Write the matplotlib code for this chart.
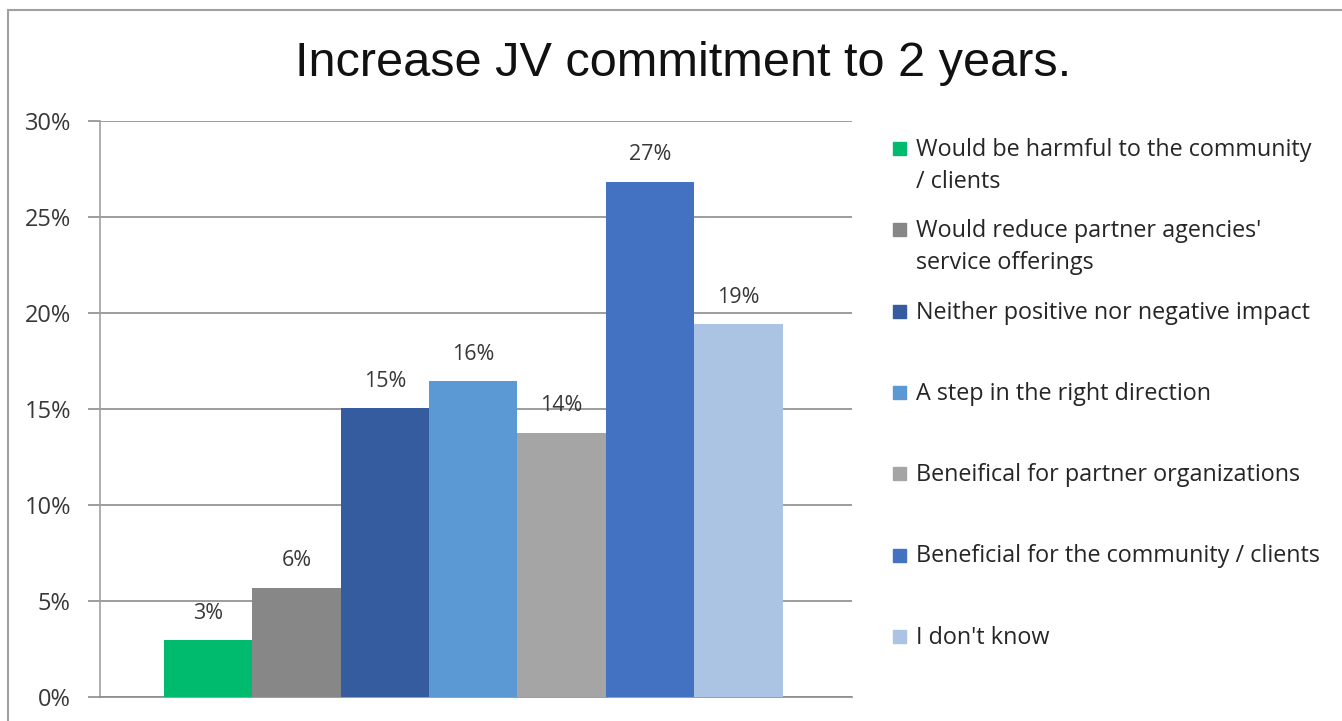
import matplotlib
matplotlib.use("Agg")
import matplotlib.pyplot as plt
from matplotlib.patches import Rectangle

# Survey responses (share of respondents)
categories = [
    "Would be harmful to the community\n/ clients",
    "Would reduce partner agencies'\nservice offerings",
    "Neither positive nor negative impact",
    "A step in the right direction",
    "Beneifical for partner organizations",
    "Beneficial for the community / clients",
    "I don't know",
]
values = [0.0298, 0.0571, 0.1505, 0.1645, 0.1378, 0.2685, 0.1945]
colors = ["#00BA6E", "#878787", "#355C9F", "#5B99D4", "#A5A5A5", "#4472C3", "#ABC4E4"]
yticks = [0.0, 0.05, 0.10, 0.15, 0.20, 0.25, 0.30]
title = "Increase JV commitment to 2 years."

W, H = 1342, 721
fig = plt.figure(figsize=(W / 100, H / 100), dpi=100)
fig.patch.set_facecolor("white")

def fx(px):
    return px / W

def fy(py):
    return 1 - py / H

# outer chart frame
fig.patches.append(Rectangle((fx(8), fy(740)), fx(1400) - fx(8), fy(10) - fy(740),
                             transform=fig.transFigure, fill=False,
                             edgecolor="#A0A0A0", linewidth=1.5))

ax = fig.add_axes([fx(100), fy(697.3), fx(852) - fx(100), fy(121.3) - fy(697.3)])
ax.set_xlim(0, 1)
ax.set_ylim(0, 0.30)

left0, bar_w = 0.0851, 0.1175
for i, (v, c) in enumerate(zip(values, colors)):
    x = left0 + i * bar_w
    ax.bar(x, v, width=bar_w, align="edge", color=c, zorder=3, linewidth=0)
    ax.text(x + bar_w / 2, v + 0.0085, f"{v:.0%}", ha="center", va="bottom",
            fontsize=15.5, color="#383838", family="Open Sans", zorder=4)

ax.set_yticks(yticks)
ax.set_yticklabels([f"{t:.0%}" for t in yticks], fontsize=17, color="#383838",
                   family="Open Sans")
ax.set_xticks([])
ax.grid(axis="y", color="#8C8C8C", linewidth=1.2, zorder=0)
for s in ["top", "right"]:
    ax.spines[s].set_visible(False)
ax.spines["left"].set_color("#A0A0A0")
ax.spines["bottom"].set_color("#8C8C8C")
ax.spines["left"].set_linewidth(1.2)
ax.spines["bottom"].set_linewidth(1.2)
ax.tick_params(axis="y", length=9, width=1.2, color="#8C8C8C", pad=12)

fig.text(fx(683), fy(64), title, ha="center", va="center", fontsize=35,
         family="Liberation Sans", color="#111111")

# legend drawn beside the plot
leg_y0, leg_step = 148, 81.3
for i, (lab, c) in enumerate(zip(categories, colors)):
    yc = leg_y0 + i * leg_step
    fig.patches.append(Rectangle((fx(893), fy(yc + 7)), fx(13), fy(0) - fy(13),
                                 transform=fig.transFigure, color=c))
    fig.text(fx(916), fy(yc - 10), lab, ha="left", va="top", fontsize=16.8,
             family="Open Sans", color="#262626", linespacing=1.45)

fig.savefig("out.png", dpi=100)
